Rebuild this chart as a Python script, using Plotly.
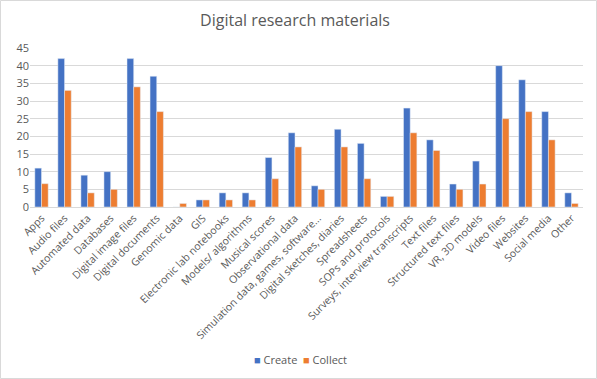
import plotly.graph_objects as go

categories = [
    "Apps", "Audio files", "Automated data", "Databases", "Digital image files",
    "Digital documents", "Genomic data", "GIS", "Electronic lab notebooks",
    "Models/ algorithms", "Musical scores", "Observational data",
    "Simulation data, games, software...", "Digital sketches, diaries",
    "Spreadsheets", "SOPs and protocols", "Surveys, interview transcripts",
    "Text files", "Structured text files", "VR, 3D models", "Video files",
    "Websites", "Social media", "Other",
]
create = [11, 42, 9, 10, 42, 37, 0, 2, 4, 4, 14, 21, 6, 22, 18, 3, 28, 19, 6.5, 13, 40, 36, 27, 4]
collect = [6.6, 33, 4, 5, 34, 27, 1, 2, 2, 2, 8, 17, 5, 17, 8, 3, 21, 16, 5, 6.5, 25, 27, 19, 1]

BLUE, ORANGE = "#4472C4", "#ED7D31"
W, H = 597, 379
ML, MR, MT, MB = 30, 14, 48, 172
pw, ph = W - ML - MR, H - MT - MB

fig = go.Figure()
fig.add_trace(go.Bar(x=categories, y=create, name="Create", marker_color=BLUE))
fig.add_trace(go.Bar(x=categories, y=collect, name="Collect", marker_color=ORANGE))

# compact Excel-like legend at the bottom
legend_text = (f"<span style='color:{BLUE}'>■</span> Create  "
               f"<span style='color:{ORANGE}'>■</span> Collect")

fig.update_layout(
    width=W, height=H,
    margin=dict(l=ML, r=MR, t=MT, b=MB, autoexpand=False),
    paper_bgcolor="white", plot_bgcolor="white",
    font=dict(family="Open Sans, Liberation Sans, sans-serif", color="#595959", size=10),
    title=dict(text="Digital research materials", xref="container", yref="container",
               x=295 / W, xanchor="center", y=1 - 20 / H, yanchor="middle",
               font=dict(size=16, color="#595959")),
    barmode="group", bargap=0.42, bargroupgap=0,
    showlegend=False,
    annotations=[dict(text=legend_text, xref="paper", yref="paper",
                      x=(300 - ML) / pw, y=-(359 - MT - ph) / ph,
                      xanchor="center", yanchor="middle", showarrow=False,
                      font=dict(size=11, color="#595959"))],
    xaxis=dict(tickangle=-45, showgrid=False, showline=True, linecolor="#d9d9d9",
               ticks="", tickfont=dict(size=10.5), automargin=False),
    yaxis=dict(range=[0, 45], dtick=5, showgrid=True, gridcolor="#d9d9d9",
               zeroline=False, showline=False, ticks="", tickfont=dict(size=11),
               automargin=False),
    shapes=[dict(type="rect", xref="paper", yref="paper",
                 x0=-(ML - 0.5) / pw, x1=(W - ML - 0.5) / pw,
                 y0=-(MB - 0.5) / ph, y1=(H - MB - 0.5) / ph,
                 line=dict(color="#d9d9d9", width=1))],
)

fig.write_html("out.html", config={"displayModeBar": False},
               post_script="document.body.style.margin='0';")
